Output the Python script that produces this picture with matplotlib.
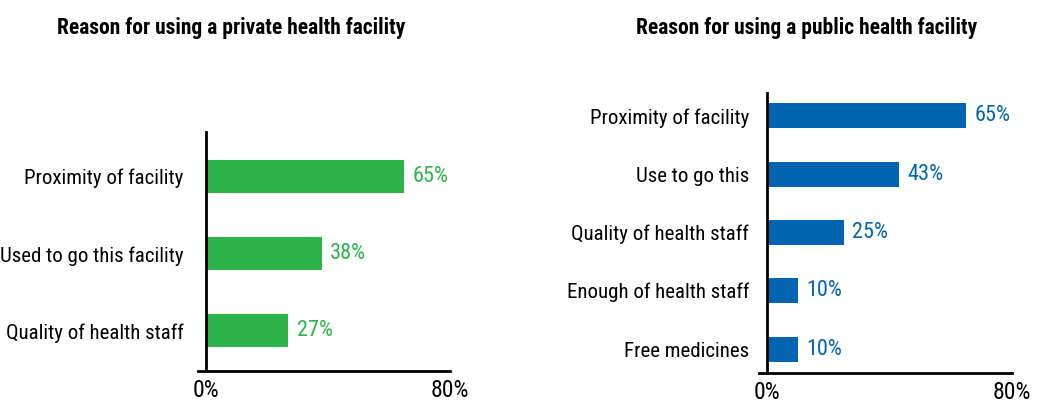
import matplotlib
matplotlib.use("Agg")
import matplotlib.pyplot as plt
from matplotlib import font_manager

names = {f.name for f in font_manager.fontManager.ttflist}
FONT = "DejaVu Sans"
for cand in ["Roboto Condensed", "Liberation Sans Narrow", "Open Sans Condensed"]:
    if cand in names:
        FONT = cand
        break
plt.rcParams['font.family'] = [FONT, 'DejaVu Sans']
plt.rcParams['font.stretch'] = 'condensed'

# Data
private_categories = ["Proximity of facility", "Used to go this facility", "Quality of health staff"]
private_values = [65, 38, 27]
public_categories = ["Proximity of facility", "Use to go this", "Quality of health staff",
                     "Enough of health staff", "Free medicines"]
public_values = [65, 43, 25, 10, 10]
x_tick_values = [0, 80]
x_tick_labels = ["0%", "80%"]
private_title = "Reason for using a private health facility"
public_title = "Reason for using a public health facility"

GREEN = "#2eb34b"
BLUE = "#0064b0"

W, H = 1037, 407
fig = plt.figure(figsize=(W / 100, H / 100), dpi=100)


def px_axes(x0, x1, ytop, ybot):
    return fig.add_axes([x0 / W, 1 - ybot / H, (x1 - x0) / W, (ybot - ytop) / H])


def draw(ax, cats, vals, color, ylim, label_pad):
    y = list(range(len(cats)))
    ax.barh(y, vals, height=0.43, color=color)
    ax.set_xlim(-2.6, 80)
    ax.set_ylim(*ylim)
    ax.spines['left'].set_position(('data', 0))
    for s in ['top', 'right']:
        ax.spines[s].set_visible(False)
    for s in ['left', 'bottom']:
        ax.spines[s].set_linewidth(2.0)
        ax.spines[s].set_color('black')
    ax.set_yticks(y)
    ax.set_yticklabels(cats, fontsize=15)
    ax.set_xticks(x_tick_values)
    ax.set_xticklabels(x_tick_labels, fontsize=17)
    ax.tick_params(axis='y', length=0, pad=label_pad, labelsize=15)
    ax.tick_params(axis='x', length=0, pad=6, labelsize=17)
    for yi, v in zip(y, vals):
        ax.annotate(f"{v}%", (v, yi), xytext=(6, 0), textcoords='offset points',
                    va='center', ha='left', color=color, fontsize=16)


ax1 = px_axes(198, 450, 132, 371)
draw(ax1, private_categories, private_values, GREEN, (2.52, -0.58), 16)

ax2 = px_axes(759, 1012, 93, 373)
draw(ax2, public_categories, public_values, BLUE, (4.41, -0.39), 13)

fig.text(231 / W, 1 - 28 / H, private_title, ha='center', va='center',
         fontsize=15.5, fontweight='bold')
fig.text(807 / W, 1 - 28 / H, public_title, ha='center', va='center',
         fontsize=15.5, fontweight='bold')

fig.savefig("out.png", dpi=100)
